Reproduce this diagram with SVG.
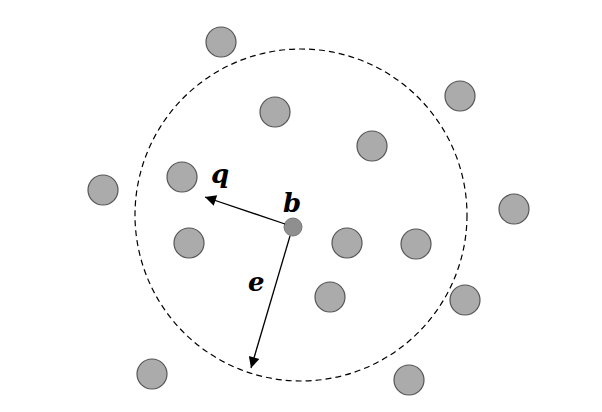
<svg xmlns="http://www.w3.org/2000/svg" width="602" height="412" viewBox="0 0 602 412">
<style>
.n{fill:#ababab;stroke:#555;stroke-width:1.2}
.l{stroke:#000;stroke-width:1.3;fill:none}
.t{font-family:"DejaVu Serif",serif;font-style:italic;font-weight:bold;font-size:26px;fill:#000}
</style>
<defs><marker id="a" viewBox="0 0 10 10" refX="10" refY="5" markerWidth="15" markerHeight="11" markerUnits="userSpaceOnUse" orient="auto"><path d="M0,0L10,5L0,10z" fill="#000"/></marker></defs>
<rect width="602" height="412" fill="#fff"/>
<ellipse cx="301" cy="215" rx="166" ry="166" fill="none" stroke="#000" stroke-width="1.2" stroke-dasharray="6,4"/>
<g id="nodes">
<circle id="n1" class="n" cx="221" cy="42" r="15"/>
<circle id="n2" class="n" cx="460" cy="96" r="15"/>
<circle id="n3" class="n" cx="275" cy="112" r="15"/>
<circle id="n4" class="n" cx="372" cy="146" r="15"/>
<circle id="n5" class="n" cx="103" cy="190" r="15"/>
<circle id="n6" class="n" cx="182" cy="177" r="15"/>
<circle id="n7" class="n" cx="514" cy="209" r="15"/>
<circle id="n8" class="n" cx="189" cy="243" r="15"/>
<circle id="n9" class="n" cx="347" cy="243" r="15"/>
<circle id="n10" class="n" cx="416" cy="244" r="15"/>
<circle id="n11" class="n" cx="330" cy="297" r="15"/>
<circle id="n12" class="n" cx="465" cy="300" r="15"/>
<circle id="n13" class="n" cx="152" cy="374" r="15"/>
<circle id="n14" class="n" cx="409" cy="380" r="15"/>
<circle id="b" cx="293" cy="227" r="9" fill="#8f8f8f" stroke="#777"/>
</g>
<g id="connectors">
<line class="l" x1="285" y1="224" x2="205" y2="197" marker-end="url(#a)"/>
<line class="l" x1="290" y1="236" x2="251" y2="368" marker-end="url(#a)"/>
</g>
<text class="t" x="211" y="183">q</text>
<text class="t" x="283" y="212">b</text>
<text class="t" x="248" y="291">e</text>
</svg>
